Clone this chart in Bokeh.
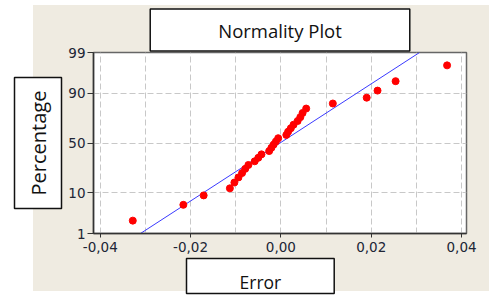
from statistics import NormalDist
from bokeh.plotting import figure
from bokeh.models import Range1d, FixedTicker, CustomJSTickFormatter, Title
from bokeh.embed import file_html
from bokeh.resources import INLINE

# ---- data ----
errors = [-0.0328, -0.0216, -0.0171, -0.0113, -0.0103, -0.0094, -0.0086, -0.0079,
          -0.0072, -0.0058, -0.0050, -0.0043, -0.0026, -0.0021, -0.0016, -0.0011,
          -0.0006, 0.0012, 0.0016, 0.0022, 0.0028, 0.0037, 0.0043, 0.0048, 0.0056,
          0.0115, 0.0190, 0.0214, 0.0254, 0.0368]
percent = [2.3, 5.6, 8.9, 12.2, 15.5, 18.8, 22.0, 25.3, 28.6, 31.9, 35.2, 38.5,
           41.8, 45.1, 48.4, 51.6, 54.9, 58.2, 61.5, 64.8, 68.1, 71.4, 74.7, 78.0,
           81.2, 84.5, 87.8, 91.1, 94.4, 97.7]
fit_error = [-0.0311, 0.0307]
fit_percent = [1, 99]

x_ticks = [-0.04, -0.02, 0.0, 0.02, 0.04]
x_tick_labels = ["-0,04", "-0,02", "0,00", "0,02", "0,04"]
x_grid = [-0.04, -0.03, -0.02, -0.01, 0.0, 0.01, 0.02, 0.03, 0.04]
y_ticks = [1, 10, 50, 90, 99]
y_tick_labels = ["1", "10", "50", "90", "99"]
y_grid = [10, 50, 90]

title_text = "Normality Plot"
xlabel_text = "Error"
ylabel_text = "Percentage"

# probability scale: percentages -> normal quantiles
nd = NormalDist()
def probit(p):
    return nd.inv_cdf(p / 100.0)

BEIGE = "#efebe1"
W, H = 489, 295

p = figure(width=W, height=H, output_backend="svg", toolbar_location=None,
           x_range=Range1d(-0.0415, 0.0411),
           y_range=Range1d(probit(1), probit(99)),
           min_border_left=93, min_border_right=23, min_border_top=52, min_border_bottom=62,
           background_fill_color="white", border_fill_color=None)
# beige panel with white page strips, shown through the transparent border area
p.styles = {"background": ("linear-gradient(to right, white 33px, transparent 33px), "
                           f"linear-gradient(to bottom, white 5px, {BEIGE} 5px, "
                           f"{BEIGE} 291px, white 291px)")}

p.outline_line_color = "#666666"
p.outline_line_width = 1.5

# axes
p.xaxis.ticker = FixedTicker(ticks=x_ticks)
p.xaxis.formatter = CustomJSTickFormatter(args=dict(labels=x_tick_labels),
                                          code="return labels[index];")
p.yaxis.ticker = FixedTicker(ticks=[probit(v) for v in y_ticks])
p.yaxis.formatter = CustomJSTickFormatter(args=dict(labels=y_tick_labels),
                                          code="return labels[index];")
for ax in (p.xaxis, p.yaxis):
    ax.axis_line_color = "#333333"
    ax.axis_line_width = 1.5
    ax.major_tick_line_color = "#333333"
    ax.major_tick_line_width = 1
    ax.major_tick_in = 0
    ax.minor_tick_line_color = None
    ax.major_label_text_font = "DejaVu Sans"
    ax.major_label_text_font_size = "13.5px"
    ax.major_label_text_color = "#202535"
p.xaxis.major_tick_out = 4
p.xaxis.major_label_standoff = 4
p.yaxis.major_tick_out = 6
p.yaxis.major_label_standoff = 2

# grid
p.xgrid.ticker = FixedTicker(ticks=x_grid)
p.ygrid.ticker = FixedTicker(ticks=[probit(v) for v in y_grid])
for g in (p.xgrid, p.ygrid):
    g.grid_line_color = "#c8c8c8"
    g.grid_line_dash = "6 3"
    g.grid_line_width = 1

# data
p.line(fit_error, [probit(v) for v in fit_percent], line_color="#3a3aff", line_width=1)
p.scatter(errors, [probit(v) for v in percent], size=7, fill_color="#ff0000",
          line_color="#ff0000")

def boxed_title(text, size, **kw):
    return Title(text=text, text_font="Open Sans", text_font_size=size,
                 text_font_style="normal", text_color="#111111",
                 background_fill_color="white", border_line_color="#111111",
                 border_line_width=1.5, **kw)

# padding tuples are (left, right, top, bottom)
p.add_layout(boxed_title(title_text, "18.5px", align="center", standoff=3,
                         padding=(68, 68, 9, 8)), "above")
p.add_layout(boxed_title(ylabel_text, "20px", align="center", standoff=8,
                         padding=(13, 13, 10, 10)), "left")
p.add_layout(boxed_title(xlabel_text, "17.5px", align="left", offset=93, standoff=4,
                         padding=(53, 53, 11, 0)), "below")

open("out.html", "w").write(file_html(p, INLINE))
